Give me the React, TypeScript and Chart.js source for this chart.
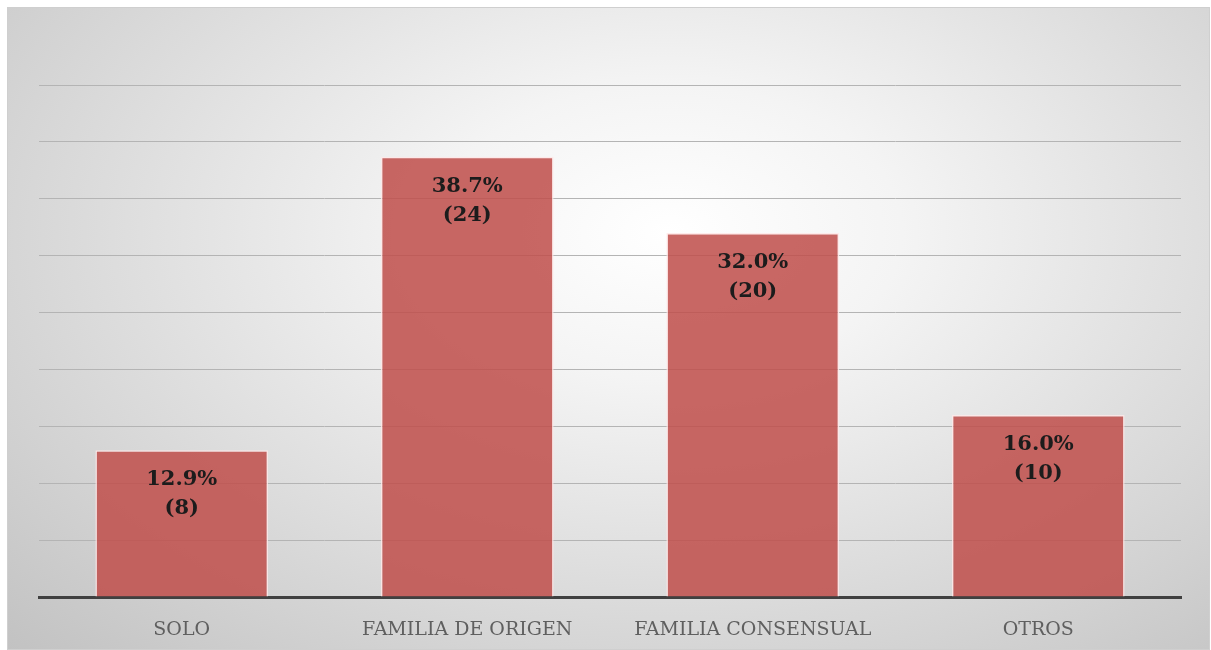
import React, { useEffect, useRef } from "react";
import { Chart, registerables } from "chart.js";

Chart.register(...registerables);

const categories = ["SOLO", "FAMILIA DE ORIGEN", "FAMILIA CONSENSUAL", "OTROS"];
const percentValues = [12.9, 38.7, 32.0, 16.0];
const countValues = [8, 24, 20, 10];
const percentLabels = ["12.9%", "38.7%", "32.0%", "16.0%"];
const countLabels = ["(8)", "(24)", "(20)", "(10)"];

const labelPlugin = {
  id: "barLabels",
  afterDatasetsDraw(chart: any) {
    const ctx = chart.ctx;
    const meta = chart.getDatasetMeta(0);
    ctx.save();
    ctx.font = "bold 21px 'DejaVu Serif'";
    ctx.fillStyle = "#1c1c1c";
    ctx.textAlign = "center";
    ctx.textBaseline = "middle";
    meta.data.forEach((bar: any, i: number) => {
      ctx.fillText(percentLabels[i], bar.x, bar.y + 29.5);
      ctx.fillText(countLabels[i], bar.x, bar.y + 58.5);
    });
    ctx.restore();
  },
};

export default function App() {
  const ref = useRef<HTMLCanvasElement | null>(null);
  useEffect(() => {
    if (!ref.current) return;
    const chart = new Chart(ref.current, {
      type: "bar",
      data: {
        labels: categories,
        datasets: [
          {
            data: percentValues,
            backgroundColor: "rgba(192,80,77,0.87)",
            borderColor: "rgba(255,232,232,0.85)",
            borderWidth: 1.5,
            categoryPercentage: 0.605,
            barPercentage: 1,
          },
        ],
      },
      options: {
        animation: false,
        responsive: false,
        maintainAspectRatio: false,
        layout: { padding: { left: 31, right: 28, top: 77, bottom: 0 } },
        plugins: { legend: { display: false }, tooltip: { enabled: false } },
        scales: {
          x: {
            grid: { display: false, drawTicks: false },
            border: { display: true, color: "#404040", width: 3 },
            ticks: {
              color: "#5f5f5f",
              font: { family: "'DejaVu Serif'", size: 19 },
              padding: 22,
              maxRotation: 0,
            },
            afterFit: (scale: any) => {
              scale.height = 52;
            },
          },
          y: {
            min: 0,
            max: 45,
            ticks: { display: false, stepSize: 5 },
            grid: { color: "#b4b4b4", lineWidth: 1, drawTicks: false },
            border: { display: false },
          },
        },
      },
      plugins: [labelPlugin],
    });
    return () => chart.destroy();
  }, []);
  return (
    <div
      style={{
        position: "absolute",
        left: 7,
        top: 7,
        width: 1203,
        height: 643,
        boxSizing: "border-box",
        border: "1px solid #cfcfcf",
        background:
          "radial-gradient(ellipse farthest-corner at 55% 35%, #ffffff 0%, #f4f4f4 25%, #c2c2c2 100%)",
      }}
    >
      <canvas ref={ref} width={1201} height={641} style={{ display: "block" }} />
    </div>
  );
}
